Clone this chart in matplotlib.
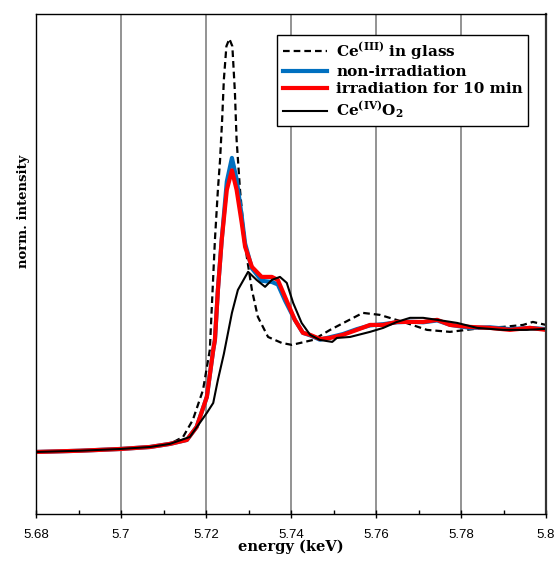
import numpy as np
import matplotlib.pyplot as plt
from matplotlib.ticker import MultipleLocator

# energy (keV) / normalized intensity
e_ce3 = [5.6800, 5.6904, 5.6998, 5.7068, 5.7115, 5.7146, 5.7169, 5.7193, 5.7209, 5.7221,
         5.7228, 5.7233, 5.7238, 5.7242, 5.7248, 5.7255, 5.7262, 5.7268, 5.7272, 5.7280,
         5.7287, 5.7296, 5.7308, 5.7322, 5.7346, 5.7378, 5.7402, 5.7452, 5.7492, 5.7569,
         5.7609, 5.7664, 5.7720, 5.7774, 5.7852, 5.7899, 5.7946, 5.7969, 5.8000]
i_ce3 = [0.0, 0.010, 0.024, 0.040, 0.065, 0.121, 0.258, 0.500, 0.823, 1.710,
         2.113, 2.350, 2.680, 3.000, 3.270, 3.330, 3.270, 2.900, 2.516, 2.113,
         1.850, 1.572, 1.306, 1.089, 0.927, 0.879, 0.863, 0.903, 0.984, 1.121,
         1.105, 1.048, 0.984, 0.968, 1.000, 1.008, 1.024, 1.048, 1.024]

e_non = [5.6800, 5.6904, 5.6998, 5.7068, 5.7115, 5.7155, 5.7178, 5.7202, 5.7217, 5.7221,
         5.7228, 5.7237, 5.7249, 5.7261, 5.7272, 5.7284, 5.7292, 5.7308, 5.7331, 5.7355,
         5.7369, 5.7386, 5.7409, 5.7428, 5.7445, 5.7468, 5.7492, 5.7522, 5.7555, 5.7586,
         5.7617, 5.7649, 5.7680, 5.7711, 5.7744, 5.7774, 5.7821, 5.7868, 5.7915, 5.7962,
         5.8000]
i_non = [0.0, 0.010, 0.024, 0.040, 0.065, 0.097, 0.202, 0.444, 0.823, 0.903,
         1.306, 1.710, 2.180, 2.370, 2.200, 1.900, 1.680, 1.480, 1.380, 1.370,
         1.350, 1.220, 1.065, 0.960, 0.940, 0.905, 0.925, 0.950, 0.990, 1.020,
         1.030, 1.045, 1.050, 1.045, 1.060, 1.025, 1.000, 1.005, 0.990, 1.000,
         0.990]

e_irr = [5.6800, 5.6904, 5.6998, 5.7068, 5.7115, 5.7155, 5.7178, 5.7202, 5.7217, 5.7221,
         5.7228, 5.7237, 5.7249, 5.7261, 5.7272, 5.7284, 5.7292, 5.7308, 5.7331, 5.7355,
         5.7369, 5.7386, 5.7409, 5.7428, 5.7445, 5.7468, 5.7492, 5.7522, 5.7555, 5.7586,
         5.7617, 5.7649, 5.7680, 5.7711, 5.7744, 5.7774, 5.7821, 5.7868, 5.7915, 5.7962,
         5.8000]
i_irr = [0.0, 0.010, 0.024, 0.040, 0.065, 0.097, 0.202, 0.444, 0.823, 0.903,
         1.306, 1.710, 2.113, 2.270, 2.113, 1.847, 1.653, 1.492, 1.411, 1.411,
         1.387, 1.250, 1.065, 0.960, 0.944, 0.911, 0.919, 0.944, 0.984, 1.024,
         1.024, 1.048, 1.048, 1.048, 1.065, 1.024, 1.008, 1.000, 0.984, 1.000,
         0.984]

e_ce4 = [5.6800, 5.6904, 5.6998, 5.7068, 5.7115, 5.7162, 5.7202, 5.7217, 5.7228, 5.7242,
         5.7261, 5.7275, 5.7299, 5.7319, 5.7339, 5.7355, 5.7374, 5.7390, 5.7405, 5.7425,
         5.7445, 5.7468, 5.7497, 5.7508, 5.7539, 5.7586, 5.7617, 5.7649, 5.7680, 5.7711,
         5.7744, 5.7791, 5.7838, 5.7899, 5.7955, 5.8000]
i_ce4 = [0.0, 0.010, 0.024, 0.040, 0.065, 0.121, 0.315, 0.395, 0.581, 0.790,
         1.121, 1.306, 1.452, 1.387, 1.331, 1.387, 1.411, 1.363, 1.202, 1.040,
         0.944, 0.903, 0.887, 0.919, 0.927, 0.968, 1.000, 1.048, 1.081, 1.081,
         1.065, 1.040, 1.000, 0.984, 0.984, 0.992]

xticks = [5.68, 5.70, 5.72, 5.74, 5.76, 5.78, 5.80]
xticklabels = ['5.68', '5.7', '5.72', '5.74', '5.76', '5.78', '5.8']

plt.rcParams['mathtext.fontset'] = 'dejavuserif'

fig = plt.figure(figsize=(5.56, 5.61), dpi=100)
ax = fig.add_axes([36/556, 47/561, 510/556, 500/561])

ax.plot(e_ce3, i_ce3, color='black', lw=1.6, ls=(0, (3, 1.8)),
        label=r'Ce$^{\mathbf{(III)}}$ in glass')
ax.plot(e_non, i_non, color='#0070C0', lw=3.0, label='non-irradiation')
ax.plot(e_irr, i_irr, color='#FF0000', lw=3.0, label='irradiation for 10 min')
ax.plot(e_ce4, i_ce4, color='black', lw=1.5,
        label=r'Ce$^{\mathbf{(IV)}}$O$_{\mathbf{2}}$')

ax.set_xlim(5.68, 5.80)
ax.set_ylim(-0.5, 3.53)
ax.set_xticks(xticks)
ax.set_xticklabels(xticklabels, fontfamily='Liberation Sans', fontsize=9.5)
ax.xaxis.set_minor_locator(MultipleLocator(0.01))
ax.tick_params(axis='x', which='major', direction='inout', length=6, width=1, pad=8)
ax.tick_params(axis='x', which='minor', direction='in', length=3, width=1)
ax.set_yticks([])
ax.grid(axis='x', which='major', color='#808080', lw=1.2)
ax.set_axisbelow(True)

for s in ax.spines.values():
    s.set_color('black')
    s.set_linewidth(1.0)
ax.spines['right'].set_linewidth(1.6)
ax.spines['right'].set_color('#333333')

ax.set_xlabel('energy (keV)', fontfamily='DejaVu Serif', fontweight='bold',
              fontsize=10.5, labelpad=-1)
ax.set_ylabel('norm. intensity', fontfamily='DejaVu Serif', fontweight='bold',
              fontsize=9.5)
ax.yaxis.set_label_coords(-0.012, 0.606)

leg = ax.legend(loc='upper right', bbox_to_anchor=(0.965, 0.958), borderaxespad=0,
                fancybox=False, framealpha=1, edgecolor='black', handlelength=2.9,
                handletextpad=0.6, labelspacing=0.22, borderpad=0.35,
                prop={'family': 'DejaVu Serif', 'weight': 'bold', 'size': 11})
leg.get_frame().set_linewidth(1.0)

fig.savefig('out.png', dpi=100)
